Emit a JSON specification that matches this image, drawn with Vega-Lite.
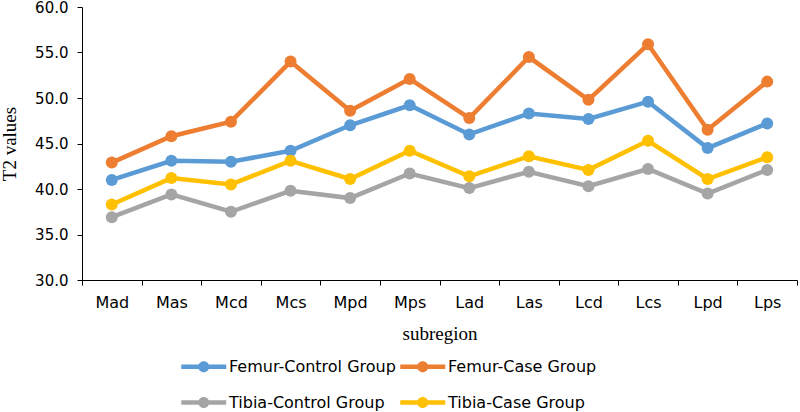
{
  "$schema": "https://vega.github.io/schema/vega-lite/v6.json",
  "autosize": {"type": "none"},
  "padding": {"left": 82, "top": 7, "right": 3, "bottom": 132},
  "width": 715,
  "height": 273,
  "background": "white",
  "config": {
    "view": {"stroke": null},
    "axis": {"grid": false, "domainColor": "#000", "tickColor": "#000", "labelColor": "#000", "titleColor": "#000", "labelFont": "DejaVu Sans", "titleFont": "Liberation Serif", "titleFontWeight": "normal", "titleFontSize": 19, "tickSize": 5, "domainWidth": 1, "tickWidth": 1}
  },
  "data": {
    "values": [
      {"subregion": "Mad", "group": "Femur-Control Group", "value": 41.0},
      {"subregion": "Mas", "group": "Femur-Control Group", "value": 43.1},
      {"subregion": "Mcd", "group": "Femur-Control Group", "value": 43.0},
      {"subregion": "Mcs", "group": "Femur-Control Group", "value": 44.2},
      {"subregion": "Mpd", "group": "Femur-Control Group", "value": 47.0},
      {"subregion": "Mps", "group": "Femur-Control Group", "value": 49.2},
      {"subregion": "Lad", "group": "Femur-Control Group", "value": 46.0},
      {"subregion": "Las", "group": "Femur-Control Group", "value": 48.3},
      {"subregion": "Lcd", "group": "Femur-Control Group", "value": 47.7},
      {"subregion": "Lcs", "group": "Femur-Control Group", "value": 49.6},
      {"subregion": "Lpd", "group": "Femur-Control Group", "value": 44.5},
      {"subregion": "Lps", "group": "Femur-Control Group", "value": 47.2},
      {"subregion": "Mad", "group": "Femur-Case Group", "value": 42.9},
      {"subregion": "Mas", "group": "Femur-Case Group", "value": 45.8},
      {"subregion": "Mcd", "group": "Femur-Case Group", "value": 47.4},
      {"subregion": "Mcs", "group": "Femur-Case Group", "value": 54.0},
      {"subregion": "Mpd", "group": "Femur-Case Group", "value": 48.6},
      {"subregion": "Mps", "group": "Femur-Case Group", "value": 52.1},
      {"subregion": "Lad", "group": "Femur-Case Group", "value": 47.8},
      {"subregion": "Las", "group": "Femur-Case Group", "value": 54.5},
      {"subregion": "Lcd", "group": "Femur-Case Group", "value": 49.8},
      {"subregion": "Lcs", "group": "Femur-Case Group", "value": 55.9},
      {"subregion": "Lpd", "group": "Femur-Case Group", "value": 46.5},
      {"subregion": "Lps", "group": "Femur-Case Group", "value": 51.8},
      {"subregion": "Mad", "group": "Tibia-Control Group", "value": 36.9},
      {"subregion": "Mas", "group": "Tibia-Control Group", "value": 39.4},
      {"subregion": "Mcd", "group": "Tibia-Control Group", "value": 37.5},
      {"subregion": "Mcs", "group": "Tibia-Control Group", "value": 39.8},
      {"subregion": "Mpd", "group": "Tibia-Control Group", "value": 39.0},
      {"subregion": "Mps", "group": "Tibia-Control Group", "value": 41.7},
      {"subregion": "Lad", "group": "Tibia-Control Group", "value": 40.1},
      {"subregion": "Las", "group": "Tibia-Control Group", "value": 41.9},
      {"subregion": "Lcd", "group": "Tibia-Control Group", "value": 40.3},
      {"subregion": "Lcs", "group": "Tibia-Control Group", "value": 42.2},
      {"subregion": "Lpd", "group": "Tibia-Control Group", "value": 39.5},
      {"subregion": "Lps", "group": "Tibia-Control Group", "value": 42.1},
      {"subregion": "Mad", "group": "Tibia-Case Group", "value": 38.3},
      {"subregion": "Mas", "group": "Tibia-Case Group", "value": 41.2},
      {"subregion": "Mcd", "group": "Tibia-Case Group", "value": 40.5},
      {"subregion": "Mcs", "group": "Tibia-Case Group", "value": 43.1},
      {"subregion": "Mpd", "group": "Tibia-Case Group", "value": 41.1},
      {"subregion": "Mps", "group": "Tibia-Case Group", "value": 44.2},
      {"subregion": "Lad", "group": "Tibia-Case Group", "value": 41.4},
      {"subregion": "Las", "group": "Tibia-Case Group", "value": 43.6},
      {"subregion": "Lcd", "group": "Tibia-Case Group", "value": 42.1},
      {"subregion": "Lcs", "group": "Tibia-Case Group", "value": 45.3},
      {"subregion": "Lpd", "group": "Tibia-Case Group", "value": 41.1},
      {"subregion": "Lps", "group": "Tibia-Case Group", "value": 43.5}
    ]
  },
  "encoding": {
    "x": {
      "field": "subregion", "type": "nominal", "sort": null,
      "scale": {"type": "band", "paddingInner": 0, "paddingOuter": 0},
      "bandPosition": 0.5,
      "axis": {"title": "subregion", "labelAngle": 0, "labelFontSize": 16, "labelPadding": 9, "tickBand": "extent", "titlePadding": 14}
    },
    "y": {
      "field": "value", "type": "quantitative",
      "scale": {"domain": [30, 60], "nice": false, "zero": false},
      "axis": {"title": "T2 values", "values": [30, 35, 40, 45, 50, 55, 60], "format": ".1f", "labelFontSize": 15, "labelPadding": 9, "titlePadding": 15}
    },
    "color": {
      "field": "group", "type": "nominal",
      "scale": {"domain": ["Femur-Control Group", "Femur-Case Group", "Tibia-Control Group", "Tibia-Case Group"], "range": ["#5B9BD5", "#ED7D31", "#A5A5A5", "#FFC000"]},
      "legend": {
        "title": null,
        "orient": "none",
        "legendX": 99,
        "legendY": 348,
        "direction": "horizontal",
        "columns": 2,
        "columnPadding": 4,
        "rowPadding": 16,
        "padding": 0,
        "symbolType": "M-1,-0.2L3,-0.2L3,0.2L-1,0.2Z M1.49,0A0.49,0.49 0 1,1 0.51,0A0.49,0.49 0 1,1 1.49,0Z",
        "symbolSize": 506,
        "symbolStrokeWidth": 0,
        "symbolOpacity": 1,
        "labelOffset": 25,
        "labelFont": "DejaVu Sans",
        "labelFontSize": 16,
        "labelColor": "#000",
        "labelLimit": 400
      }
    }
  },
  "layer": [
    {
      "mark": {"type": "line", "strokeWidth": 4.5}
    },
    {
      "mark": {"type": "point", "filled": true, "size": 144, "opacity": 1}
    }
  ]
}
